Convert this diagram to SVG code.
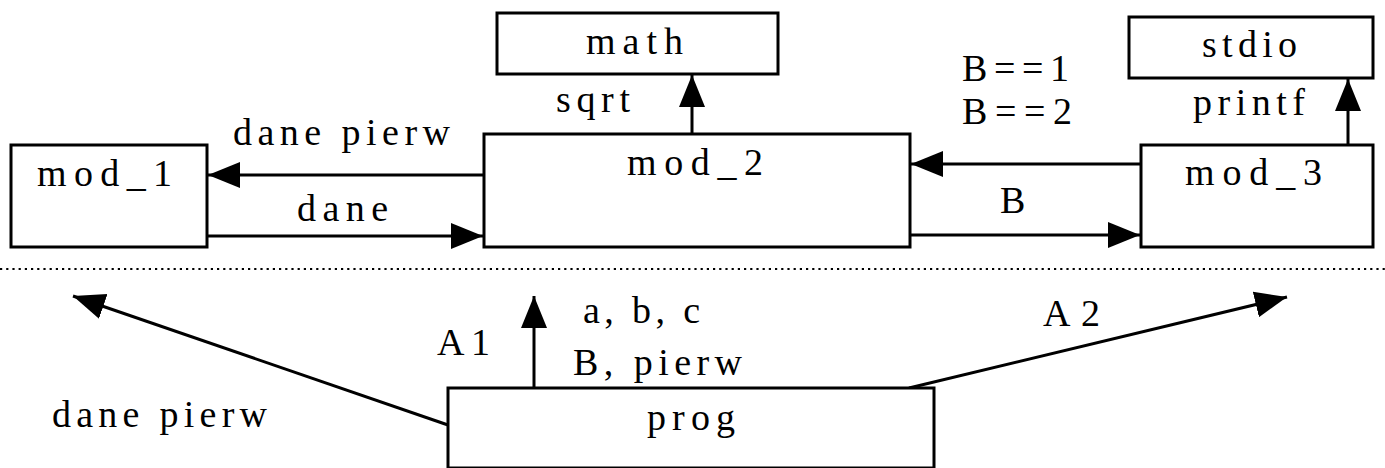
<svg xmlns="http://www.w3.org/2000/svg" width="1385" height="468" viewBox="0 0 1385 468">
<style>
.box{fill:#fff;stroke:#000;stroke-width:3}
.ln{stroke:#000;stroke-width:3;fill:none}
.dot{stroke:#000;stroke-width:2.2;stroke-dasharray:2.2 4;fill:none}
text{fill:#000}
</style>
<defs>
<marker id="ah" markerUnits="userSpaceOnUse" markerWidth="34" markerHeight="28" refX="32" refY="14" orient="auto">
<path d="M0,1 L32,14 L0,27 Z" fill="#000"/>
</marker>
</defs>
<rect width="1385" height="468" fill="#fff"/>
<g id="connectors" font-family="'Liberation Serif', 'Times New Roman', serif" font-size="38">
<line class="ln" x1="484" y1="175" x2="208" y2="175" marker-end="url(#ah)"/>
<line class="ln" x1="207" y1="236" x2="483" y2="236" marker-end="url(#ah)"/>
<line class="ln" x1="1141" y1="164" x2="911" y2="164" marker-end="url(#ah)"/>
<line class="ln" x1="910" y1="235" x2="1140" y2="235" marker-end="url(#ah)"/>
<line class="ln" x1="692" y1="134" x2="692" y2="75" marker-end="url(#ah)"/>
<line class="ln" x1="1348" y1="145" x2="1348" y2="79" marker-end="url(#ah)"/>
<line class="ln" x1="534" y1="388" x2="534" y2="296" marker-end="url(#ah)"/>
<line class="ln" x1="448" y1="425" x2="73" y2="296" marker-end="url(#ah)"/>
<line class="ln" x1="909" y1="388" x2="1287" y2="297" marker-end="url(#ah)"/>
<line class="dot" x1="0" y1="269" x2="1385" y2="269"/>
<text x="233" y="145" textLength="217" lengthAdjust="spacing">dane pierw</text>
<text x="297" y="221" textLength="91" lengthAdjust="spacing">dane</text>
<text x="556" y="112" textLength="74" lengthAdjust="spacing">sqrt</text>
<text x="962" y="81" textLength="107" lengthAdjust="spacing">B==1</text>
<text x="962" y="124" textLength="110" lengthAdjust="spacing">B==2</text>
<text x="1000" y="213">B</text>
<text x="1193" y="115" textLength="112" lengthAdjust="spacing">printf</text>
<text x="583" y="323" textLength="117" lengthAdjust="spacing">a, b, c</text>
<text x="437" y="355" textLength="53" lengthAdjust="spacing">A1</text>
<text x="573" y="375" textLength="169" lengthAdjust="spacing">B, pierw</text>
<text x="1043" y="326" textLength="57" lengthAdjust="spacing">A2</text>
<text x="52" y="427" textLength="215" lengthAdjust="spacing">dane pierw</text>
</g>
<g font-family="'Liberation Serif', 'Times New Roman', serif" font-size="38">
<g id="mod_1"><rect class="box" x="11" y="145" width="196" height="102"/><text x="37" y="186" textLength="135" lengthAdjust="spacing">mod_1</text></g>
<g id="mod_2"><rect class="box" x="484" y="134" width="426" height="113"/><text x="627" y="175" textLength="136" lengthAdjust="spacing">mod_2</text></g>
<g id="math"><rect class="box" x="497" y="13" width="281" height="61"/><text x="586" y="54" textLength="97" lengthAdjust="spacing">math</text></g>
<g id="stdio"><rect class="box" x="1129" y="17" width="244" height="61"/><text x="1202" y="57" textLength="95" lengthAdjust="spacing">stdio</text></g>
<g id="mod_3"><rect class="box" x="1141" y="145" width="232" height="102"/><text x="1185" y="185" textLength="137" lengthAdjust="spacing">mod_3</text></g>
<g id="prog"><rect class="box" x="448" y="388" width="486" height="80"/><text x="647" y="430" textLength="88" lengthAdjust="spacing">prog</text></g>
</g>
</svg>
